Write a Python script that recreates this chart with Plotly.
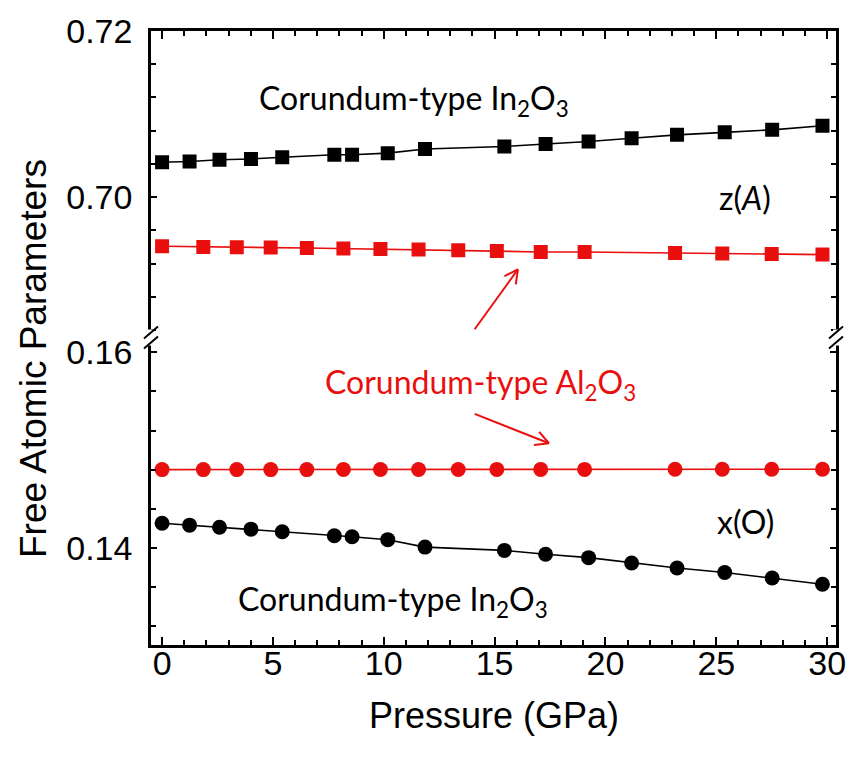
import math
import plotly.graph_objects as go

# Pressure points (GPa)
p_in = [0.0, 1.24, 2.59, 4.01, 5.42, 7.77, 8.57, 10.18, 11.86,
        15.44, 17.30, 19.24, 21.18, 23.23, 25.38, 27.52, 29.79]
p_al = [0.0, 1.86, 3.37, 4.90, 6.53, 8.18, 9.85, 11.57, 13.36,
        15.10, 17.08, 19.06, 23.14, 25.27, 27.50, 29.79]

# z(A) free parameter
z_in = [0.7042, 0.7043, 0.7045, 0.7046, 0.7048, 0.7051, 0.7051, 0.7053, 0.7058,
        0.7061, 0.7064, 0.7067, 0.7071, 0.7075, 0.7078, 0.7081, 0.7086]
z_al = [0.69410, 0.69401, 0.69398, 0.69393, 0.69389, 0.69381, 0.69377, 0.69369,
        0.69362, 0.69352, 0.69341, 0.69341, 0.69329, 0.69321, 0.69317, 0.69309]

# x(O) free parameter
x_in = [0.14251, 0.14231, 0.14210, 0.14190, 0.14163, 0.14122, 0.14112, 0.14082,
        0.14006, 0.13972, 0.13932, 0.13898, 0.13843, 0.13792, 0.13745, 0.13690,
        0.13626]
x_al = [0.14800, 0.14800, 0.14800, 0.14800, 0.14800, 0.14801, 0.14801, 0.14801,
        0.14801, 0.14802, 0.14802, 0.14802, 0.14803, 0.14803, 0.14803, 0.14804]

RED = "#ea0f0f"
BLACK = "#000000"
ARIAL = "Liberation Sans, Arial, sans-serif"
TICK_FONT = dict(family=ARIAL, size=34, color="black")
LABEL_FONT = "Lato, Calibri, sans-serif"

W, H = 858, 760
M = dict(l=151, r=15, t=28, b=115)
SPLIT = 0.5008  # fraction of plot height where the broken axis joins
X_RANGE = [-0.5, 30.4]
Y_LOW = [0.13003, 0.16153]
Y_HIGH = [0.68311, 0.72]

fig = go.Figure()

line_kw = dict(width=1.6)
fig.add_trace(go.Scatter(x=p_in, y=z_in, mode="lines+markers", xaxis="x2", yaxis="y2",
                         line=dict(color=BLACK, **line_kw),
                         marker=dict(symbol="square", size=14, color=BLACK)))
fig.add_trace(go.Scatter(x=p_al, y=z_al, mode="lines+markers", xaxis="x2", yaxis="y2",
                         line=dict(color=RED, **line_kw),
                         marker=dict(symbol="square", size=14, color=RED)))
fig.add_trace(go.Scatter(x=p_al, y=x_al, mode="lines+markers", xaxis="x", yaxis="y",
                         line=dict(color=RED, **line_kw),
                         marker=dict(symbol="circle", size=15, color=RED)))
fig.add_trace(go.Scatter(x=p_in, y=x_in, mode="lines+markers", xaxis="x", yaxis="y",
                         line=dict(color=BLACK, **line_kw),
                         marker=dict(symbol="circle", size=15, color=BLACK)))

axis_common = dict(showline=True, linecolor="black", linewidth=2.5, ticks="inside",
                   tickcolor="black", tickwidth=1.8, showgrid=False, zeroline=False,
                   tickfont=TICK_FONT)
minor_common = dict(ticks="inside", ticklen=5, tickcolor="black", tickwidth=1.8)

x_ticks = [0, 5, 10, 15, 20, 25, 30]
fig.update_layout(
    width=W, height=H,
    margin=M,
    paper_bgcolor="white", plot_bgcolor="white",
    showlegend=False,
    xaxis=dict(**axis_common, range=X_RANGE, anchor="y", domain=[0, 1],
               tickvals=x_ticks, ticklen=8, mirror=False,
               minor=dict(dtick=1, **minor_common), ticklabelstandoff=-14),
    xaxis2=dict(**axis_common, range=X_RANGE, anchor="y2",
                matches="x", side="top", showticklabels=False, domain=[0, 1],
                tickvals=x_ticks, ticklen=8, mirror=False,
                minor=dict(dtick=1, **minor_common)),
    yaxis=dict(**axis_common, domain=[0, SPLIT], range=Y_LOW,
               tickvals=[0.14, 0.16], ticktext=["0.14", "0.16"], ticklen=6, mirror="allticks",
               minor=dict(dtick=0.004, tick0=0.0, **minor_common), ticklabelstandoff=9),
    yaxis2=dict(**axis_common, domain=[SPLIT, 1], range=Y_HIGH,
                tickvals=[0.70, 0.72], ticktext=["0.70", "0.72"], ticklen=6, mirror="allticks",
                minor=dict(dtick=0.004, tick0=0.0, **minor_common), ticklabelstandoff=9),
)

# Axis titles
fig.add_annotation(text="Pressure (GPa)", xref="paper", yref="paper",
                   x=0.5, y=0, yshift=-70, xanchor="center", yanchor="middle", showarrow=False,
                   font=dict(family=ARIAL, size=36, color="black"))
fig.add_annotation(text="Free Atomic Parameters", xref="paper", yref="paper",
                   x=0, y=0.5, xshift=-118, yshift=-21, xanchor="center", yanchor="middle",
                   textangle=-90, showarrow=False,
                   font=dict(family=ARIAL, size=37, color="black"))

# Axis-break marks on both sides of the frame
for xa in (0, 1):
    fig.add_shape(type="line", xref="paper", yref="paper", xsizemode="pixel", ysizemode="pixel",
                  xanchor=xa, yanchor=SPLIT, x0=0, x1=0, y0=-8, y1=8,
                  line=dict(color="white", width=6))
    for c in (-5, 5):
        fig.add_shape(type="line", xref="paper", yref="paper", xsizemode="pixel", ysizemode="pixel",
                      xanchor=xa, yanchor=SPLIT, x0=-7, x1=7, y0=c - 6, y1=c + 6,
                      line=dict(color="black", width=2))

# Text labels
lab = dict(showarrow=False, font=dict(family=LABEL_FONT, size=32, color="black"))
fig.add_annotation(text="Corundum-type In<sub>2</sub>O<sub>3</sub>", xref="x2", yref="y2",
                   x=4.3, y=0.7117, xanchor="left", **lab)
fig.add_annotation(text="z(<i>A</i>)", xref="x2", yref="y2", x=26.3, y=0.700,
                   xanchor="center", **lab)
fig.add_annotation(text="x(O)", xref="x", yref="y", x=26.3, y=0.1427,
                   xanchor="center", **lab)
fig.add_annotation(text="Corundum-type In<sub>2</sub>O<sub>3</sub>", xref="x", yref="y",
                   x=3.35, y=0.1345, xanchor="left", **lab)
fig.add_annotation(text="Corundum-type Al<sub>2</sub>O<sub>3</sub>", xref="paper", yref="paper",
                   x=0.481, y=SPLIT, yshift=-46, xanchor="center", showarrow=False,
                   font=dict(family=LABEL_FONT, size=32, color=RED))

# Open-headed arrows pointing at the Al2O3 series
plot_w = W - M["l"] - M["r"]
plot_h = H - M["t"] - M["b"]
px_x = plot_w / (X_RANGE[1] - X_RANGE[0])
px_y_high = plot_h * (1 - SPLIT) / (Y_HIGH[1] - Y_HIGH[0])
px_y_low = plot_h * SPLIT / (Y_LOW[1] - Y_LOW[0])


def open_arrow(xref, yref, x0, y0, x1, y1, px_y, head=15, spread=28):
    fig.add_shape(type="line", xref=xref, yref=yref, x0=x0, y0=y0, x1=x1, y1=y1,
                  line=dict(color=RED, width=2))
    dx, dy = (x1 - x0) * px_x, (y1 - y0) * px_y
    ang = math.atan2(dy, dx)
    for s in (-1, 1):
        a = ang + math.pi + s * math.radians(spread)
        fig.add_shape(type="line", xref=xref, yref=yref, xsizemode="pixel", ysizemode="pixel",
                      xanchor=x1, yanchor=y1, x0=0, y0=0,
                      x1=head * math.cos(a), y1=head * math.sin(a),
                      line=dict(color=RED, width=2))


open_arrow("x2", "y2", 14.1, 0.6841, 16.05, 0.6913, px_y_high)
open_arrow("x", "y", 14.1, 0.1537, 17.45, 0.1507, px_y_low)

fig.write_html("out.html")
